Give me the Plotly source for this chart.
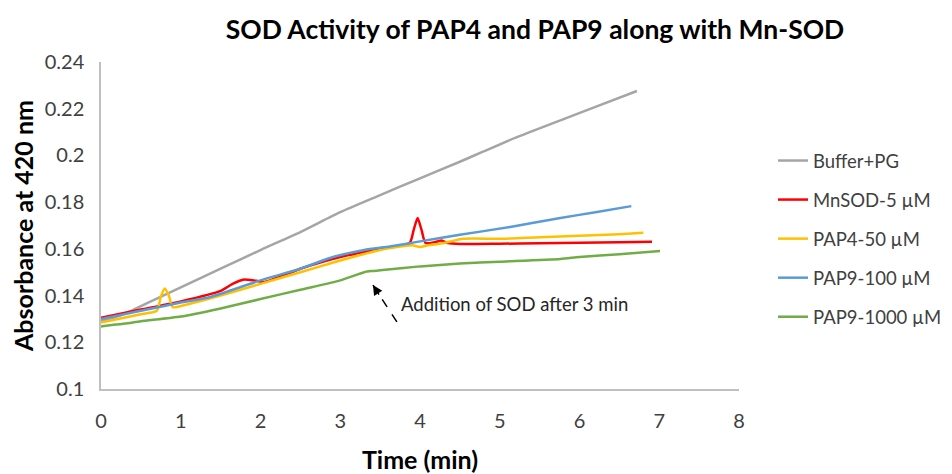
import plotly.graph_objects as go

# Data
buffer_t = [0, 0.2, 0.4, 0.7, 1, 1.5, 2, 2.5, 3, 3.5, 4, 4.5, 4.79, 5.2, 5.76, 6.2, 6.72]
buffer_y = [0.129, 0.1310, 0.1338, 0.1387, 0.1435, 0.1515, 0.1595, 0.1672, 0.1757, 0.1830, 0.1902, 0.1973, 0.2016, 0.2076, 0.2150, 0.2208, 0.2276]

mnsod_t = [0, 0.5, 1, 1.5, 1.65, 1.78, 1.9, 2.05, 2.5, 3, 3.5, 3.87, 3.92, 3.97, 4.02, 4.07, 4.2, 4.27, 4.35, 4.5, 5, 5.5, 6, 6.5, 6.91]
mnsod_y = [0.1305, 0.1340, 0.1375, 0.1420, 0.1450, 0.1468, 0.1466, 0.1458, 0.1515, 0.1565, 0.1600, 0.1625, 0.1680, 0.1732, 0.1680, 0.1625, 0.1630, 0.1636, 0.1625, 0.1621, 0.1622, 0.1624, 0.1626, 0.1628, 0.1630]

pap4_t = [0, 0.5, 0.7, 0.75, 0.8, 0.85, 0.9, 1, 1.5, 2, 2.5, 3, 3.5, 3.9, 4.0, 4.1, 4.3, 4.54, 5, 5.5, 6, 6.5, 6.8]
pap4_y = [0.1285, 0.1320, 0.1335, 0.1395, 0.1430, 0.1400, 0.1350, 0.1355, 0.1400, 0.1450, 0.1500, 0.1550, 0.1595, 0.1615, 0.1608, 0.1615, 0.1625, 0.1643, 0.1643, 0.1650, 0.1656, 0.1663, 0.1669]

pap9_100_t = [0, 0.5, 1, 1.37, 2, 2.5, 2.87, 3.3, 3.62, 4, 4.5, 5.13, 5.76, 6.2, 6.65]
pap9_100_y = [0.1300, 0.1335, 0.1370, 0.1394, 0.1465, 0.1515, 0.1561, 0.1595, 0.1610, 0.1632, 0.1660, 0.1694, 0.1732, 0.1757, 0.1783]

pap9_1000_t = [0, 0.3, 0.5, 1, 1.5, 2, 2.5, 3, 3.3, 3.4, 3.5, 4, 4.5, 5, 5.76, 6, 6.5, 7.01]
pap9_1000_y = [0.1268, 0.1280, 0.1290, 0.1310, 0.1345, 0.1385, 0.1425, 0.1465, 0.1500, 0.1505, 0.1508, 0.1525, 0.1537, 0.1545, 0.1557, 0.1565, 0.1577, 0.1591]

series_names = ["Buffer+PG", "MnSOD-5 µM", "PAP4-50 µM", "PAP9-100 µM", "PAP9-1000 µM"]
series_colors = ["#A5A5A5", "#FF0000", "#FFC000", "#5B9BD5", "#70AD47"]

x_ticks = [0, 1, 2, 3, 4, 5, 6, 7, 8]
y_ticks = [0.1, 0.12, 0.14, 0.16, 0.18, 0.2, 0.22, 0.24]
y_tick_text = ["0.1", "0.12", "0.14", "0.16", "0.18", "0.2", "0.22", "0.24"]

title_text = "SOD Activity of PAP4 and PAP9 along with Mn-SOD"
note_text = "Addition of SOD after 3 min"
arrow_tip = (3.41, 0.1445)
arrow_tail = (3.71, 0.1287)
note_pos = (5.19, 0.1362)

FONT = "Lato"
TXT = "#404040"

W, H = 944, 466          # page body has an 8px margin
L, T = 93, 54
PW, PH = 638, 327

fig = go.Figure()
all_t = [buffer_t, mnsod_t, pap4_t, pap9_100_t, pap9_1000_t]
all_y = [buffer_y, mnsod_y, pap4_y, pap9_100_y, pap9_1000_y]
for i, (t, y, n, c) in enumerate(zip(all_t, all_y, series_names, series_colors)):
    fig.add_trace(go.Scatter(x=t, y=y, mode="lines", name=n,
                             line=dict(color=c, width=2.5, shape="spline", smoothing=0.6),
                             legendgroup=f"g{i}"))

# dashed arrow
fig.add_shape(type="line", xref="x", yref="y",
              x0=arrow_tail[0], y0=arrow_tail[1], x1=arrow_tip[0], y1=arrow_tip[1],
              line=dict(color="black", width=1.5, dash="dash"))
fig.add_annotation(x=arrow_tip[0], y=arrow_tip[1], xref="x", yref="y", text="",
                   showarrow=True, arrowhead=2, arrowsize=1.3, arrowwidth=1.5,
                   arrowcolor="black", ax=7, ay=11)
fig.add_annotation(x=note_pos[0], y=note_pos[1], xref="x", yref="y", text=note_text,
                   showarrow=False, font=dict(family=FONT, size=18.5, color="#262626"))

fig.update_layout(
    width=W, height=H,
    margin=dict(l=L, r=W - L - PW, t=T, b=H - T - PH, autoexpand=False),
    paper_bgcolor="white", plot_bgcolor="white",
    title=dict(text=f"<b>{title_text}</b>", x=527 / W, xanchor="center",
               y=1 - 22 / H, yanchor="middle", automargin=False,
               font=dict(family=FONT, size=26.5, color="black")),
    font=dict(family=FONT, size=19, color=TXT),
    legend=dict(x=(773 - 101) / PW, xanchor="left", y=1 - (142 - 62) / PH, yanchor="top",
                font=dict(family=FONT, size=18.5, color=TXT), tracegroupgap=12,
                bgcolor="rgba(0,0,0,0)"),
    showlegend=True,
)
fig.update_xaxes(range=[0, 8], tickvals=x_ticks, showgrid=False, zeroline=False,
                 showline=True, linecolor="#BFBFBF", linewidth=1.5, ticks="",
                 ticklabelstandoff=13, automargin=False,
                 tickfont=dict(family=FONT, size=20, color=TXT),
                 title=dict(text="<b>Time (min)</b>", standoff=21,
                            font=dict(family=FONT, size=25, color="black")))
fig.update_yaxes(range=[0.1, 0.24], tickvals=y_ticks, ticktext=y_tick_text,
                 showgrid=False, zeroline=False,
                 showline=True, linecolor="#BFBFBF", linewidth=1.5, ticks="",
                 ticklabelstandoff=11, automargin=False,
                 tickfont=dict(family=FONT, size=20, color=TXT),
                 title=dict(text="<b>Absorbance at 420 nm</b>", standoff=10,
                            font=dict(family=FONT, size=25, color="black")))

fig.write_html("out.html")
